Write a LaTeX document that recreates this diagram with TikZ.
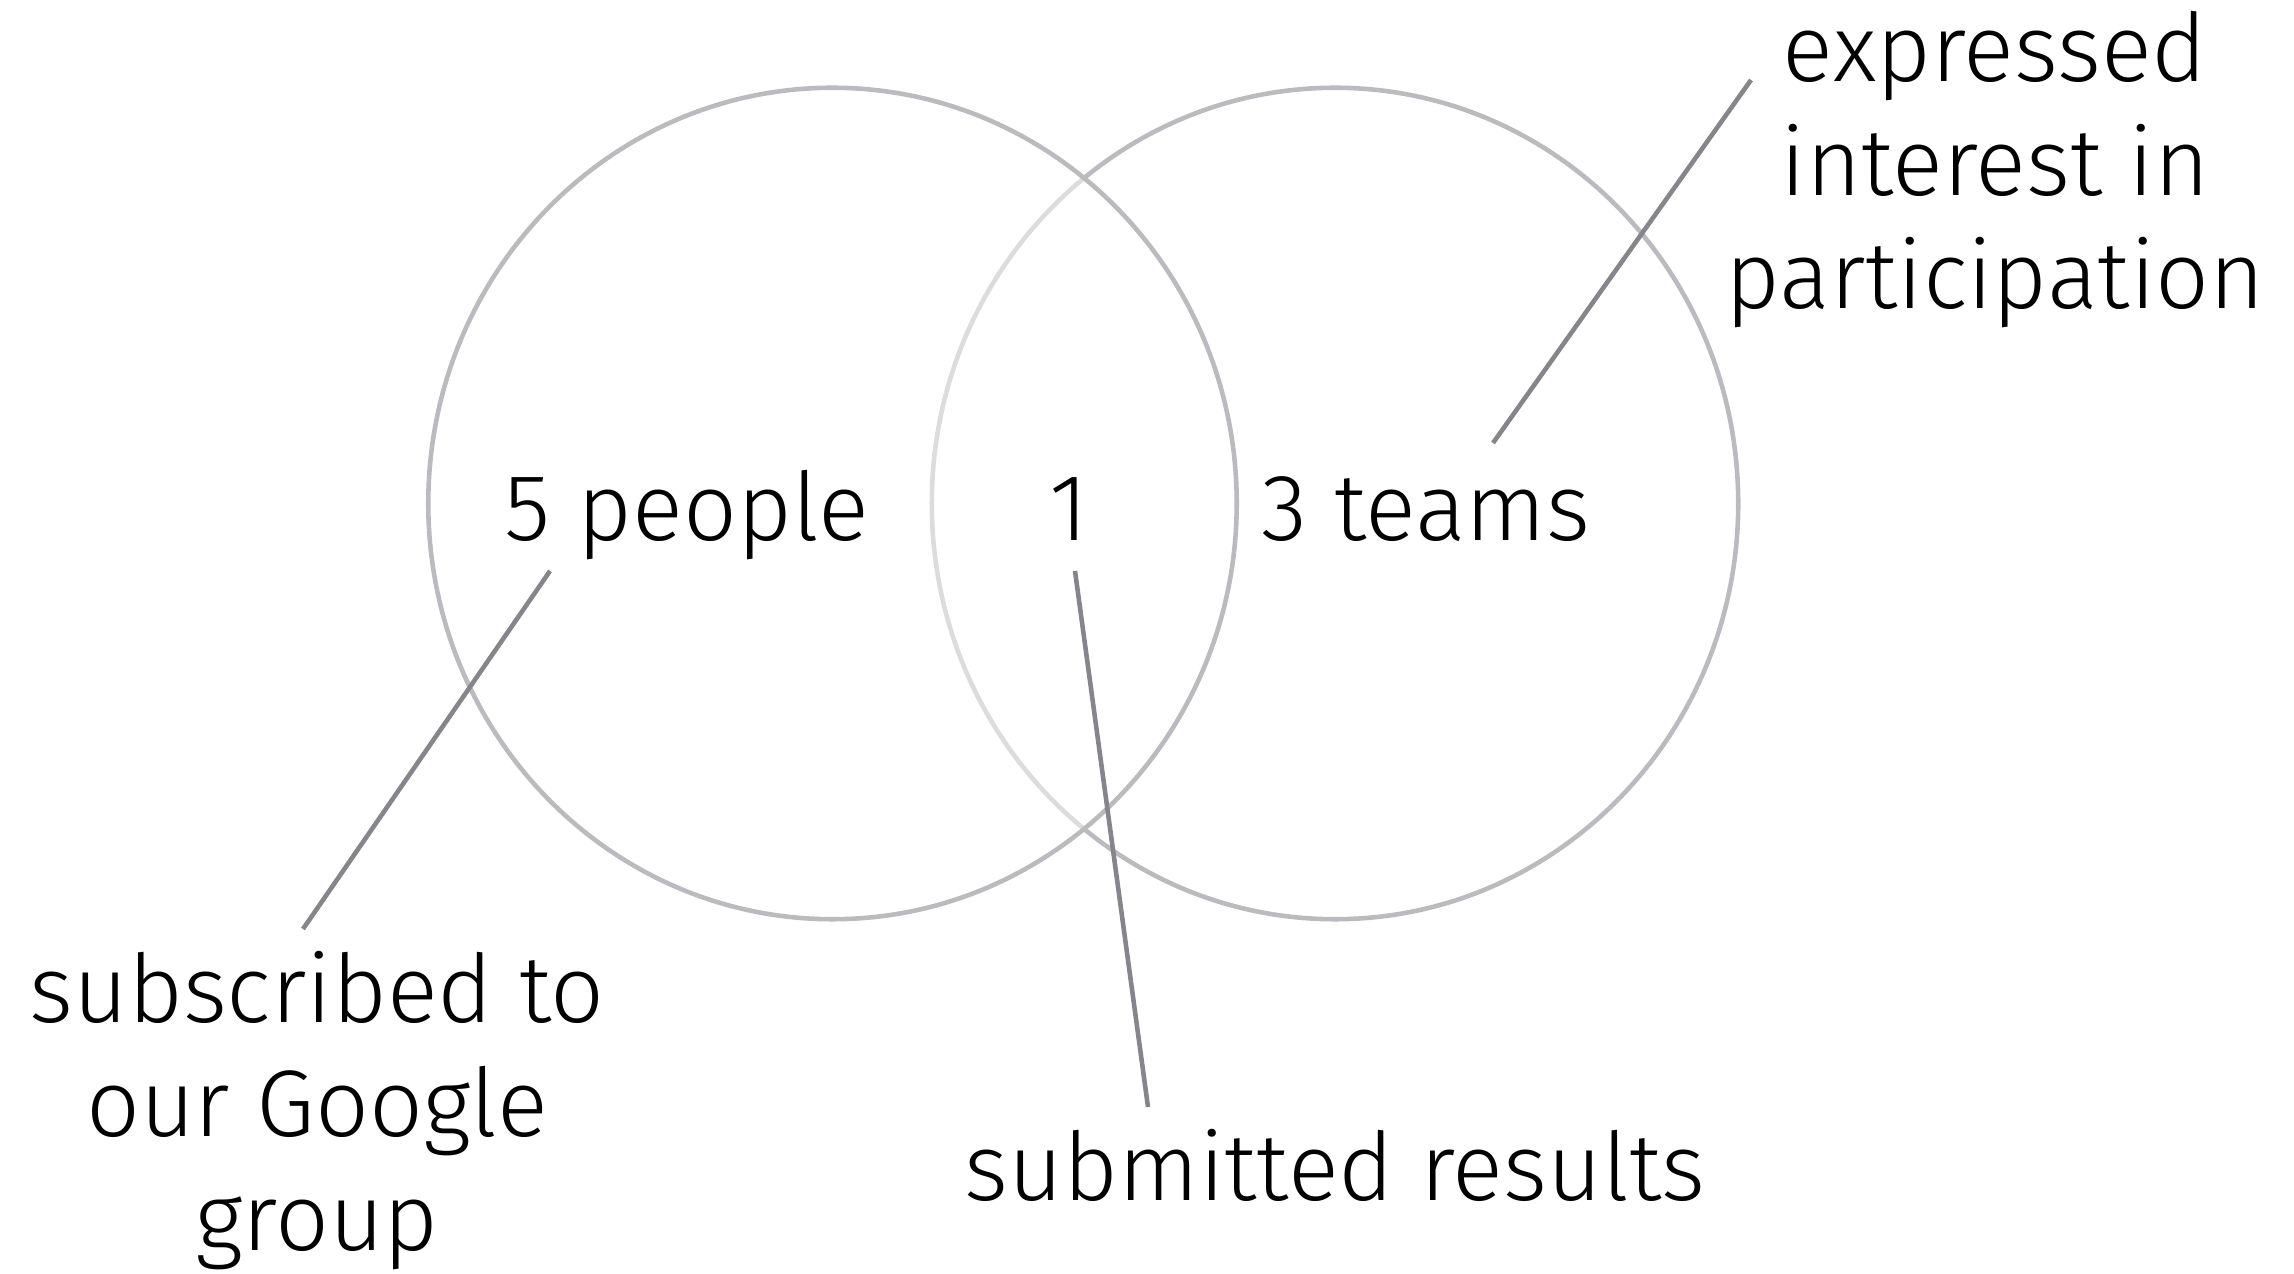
\documentclass[tikz,border=0pt]{standalone}
\usepackage{fontspec}
\setmainfont{Fira Sans Light}
\definecolor{ringgray}{RGB}{186,186,191}
\definecolor{leadgray}{RGB}{132,134,140}
\begin{document}
\begin{tikzpicture}[x=0.01cm,y=-0.01cm,
  ring/.style={draw=ringgray, line width=1.3pt},
  leader/.style={draw=leadgray, line width=1.3pt},
  lbl/.style={font=\fontsize{26.9}{32.4}\selectfont, inner sep=0pt, text=black},
]
\useasboundingbox (0,0) rectangle (2294,1274);
% Venn ellipses
\draw[ring] (1335,503.5) ellipse [x radius=4.03cm, y radius=4.155cm];
\draw[ring, fill=white, fill opacity=0.5] (832.5,503.5) ellipse [x radius=4.04cm, y radius=4.155cm];
% labels
\node[lbl, anchor=base] (people) at (687,541) {5 people};
\node[lbl, anchor=base] (one) at (1069,541) {1};
\node[lbl, anchor=base] (teams) at (1426,541) {3 teams};
\node[lbl, anchor=base, align=center] (interest) at (1995,309) {expressed\\interest in\\participation};
\node[lbl, anchor=base, align=center] (subscribed) at (317,1250) {subscribed to\\our Google\\group};
\node[lbl, anchor=base] (submitted) at (1335,1200) {submitted results};
% leader ends
\coordinate (p1) at (550,571);
\coordinate (p2) at (303,929);
\coordinate (o1) at (1075,571);
\coordinate (o2) at (1148,1107);
\coordinate (t1) at (1493,443);
\coordinate (t2) at (1751,80);
\draw[leader] (p1) -- (p2);
\draw[leader] (o1) -- (o2);
\draw[leader] (t1) -- (t2);
\end{tikzpicture}
\end{document}
